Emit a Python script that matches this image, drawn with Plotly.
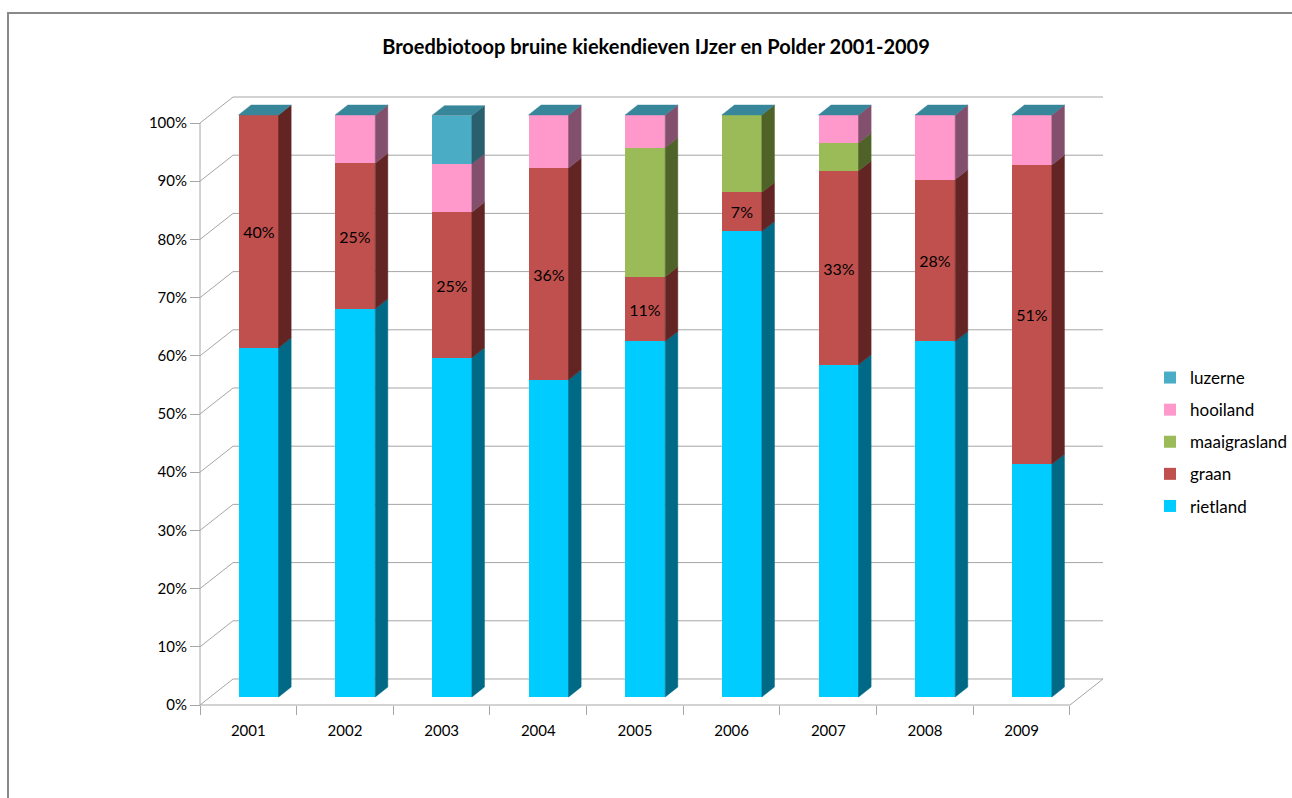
import plotly.graph_objects as go

# ---------------- data (percent of nests per habitat) ----------------
years = ["2001", "2002", "2003", "2004", "2005", "2006", "2007", "2008", "2009"]
rietland = [60.0, 66.7, 58.3, 54.5, 61.1, 80.0, 57.1, 61.1, 40.0]
graan = [40.0, 25.0, 25.0, 36.4, 11.1, 6.7, 33.3, 27.8, 51.4]
maaigrasland = [0.0, 0.0, 0.0, 0.0, 22.2, 13.3, 4.8, 0.0, 0.0]
hooiland = [0.0, 8.3, 8.3, 9.1, 5.6, 0.0, 4.8, 11.1, 8.6]
luzerne = [0.0, 0.0, 8.3, 0.0, 0.0, 0.0, 0.0, 0.0, 0.0]
y_ticks = [0, 10, 20, 30, 40, 50, 60, 70, 80, 90, 100]
y_ticktext = [f"{v}%" for v in y_ticks]
title = "Broedbiotoop bruine kiekendieven IJzer en Polder 2001-2009"

# name, values, front colour, side colour, labelled?
series = [
    ("rietland", rietland, "#00CCFF", "#006A86", False),
    ("graan", graan, "#C0504D", "#632523", True),
    ("maaigrasland", maaigrasland, "#9BBB59", "#4F6228", False),
    ("hooiland", hooiland, "#FF99CC", "#82506C", False),
    ("luzerne", luzerne, "#4BACC6", "#2A5F6E", False),
]
TOP_COLOR = "#37869A"
GRID = "#A6A6A6"
FONT = "Lato"

# ---------------- pseudo 3-D geometry ----------------
W, H = 1292, 798
N = len(years)
DX = 0.342      # full depth, in category units
DY = 4.47       # full depth, in % units
D_FRONT = 0.31  # depth fraction of bar front face
D_BACK = 0.69   # depth fraction of bar back face
BAR_W = 0.414

X0_PX, X1_PX = 200, 1103   # pixel of x=0 and x=N+DX
Y0_PX, Y1_PX = 705, 97     # pixel of y=0 and y=100+DY
PAD = 8
sx = (X1_PX - X0_PX) / (N + DX)
sy = (Y0_PX - Y1_PX) / (100 + DY)
ml = X0_PX - PAD
mr = W - (X1_PX + PAD)
mt = Y1_PX - PAD
mb = H - (Y0_PX + PAD)
plot_w = W - ml - mr
plot_h = H - mt - mb


def pxx(px):
    return (px - ml) / plot_w


def pxy(py):
    return (H - mb - py) / plot_h


fig = go.Figure()

cum = [0.0] * N
side_traces = []
xs = [i + 0.5 + D_FRONT * DX for i in range(N)]
dd = D_BACK - D_FRONT
nser = len(series)
for k, (name, vals, col, side, labelled) in enumerate(series):
    base = [c + D_FRONT * DY for c in cum]
    text = [f"{round(v)}%" if (labelled and v > 0) else "" for v in vals]
    fig.add_trace(go.Bar(
        x=xs, y=vals, base=base, width=BAR_W, name=name,
        marker=dict(color=col, line=dict(width=0)),
        text=text, textposition="inside", insidetextanchor="middle",
        textangle=0, constraintext="none",
        textfont=dict(family=FONT, size=16, color="#000000"),
        legendgroup=name, legendrank=nser - k, hoverinfo="skip",
    ))
    sxs, sys_ = [], []
    for i in range(N):
        if vals[i] <= 0:
            continue
        xr = xs[i] + BAR_W / 2
        yb = base[i]
        yt = base[i] + vals[i]
        sxs += [xr, xr + dd * DX, xr + dd * DX, xr, xr, None]
        sys_ += [yb, yb + dd * DY, yt + dd * DY, yt, yb, None]
    side_traces.append(go.Scatter(
        x=sxs, y=sys_, mode="lines", fill="toself", fillcolor=side,
        line=dict(color=side, width=0.5), showlegend=False, hoverinfo="skip",
    ))
    cum = [c + v for c, v in zip(cum, vals)]

for t in side_traces:
    fig.add_trace(t)

# top faces
tx, ty = [], []
for i in range(N):
    xl = xs[i] - BAR_W / 2
    xr = xs[i] + BAR_W / 2
    yt = cum[i] + D_FRONT * DY
    tx += [xl, xl + dd * DX, xr + dd * DX, xr, xl, None]
    ty += [yt, yt + dd * DY, yt + dd * DY, yt, yt, None]
fig.add_trace(go.Scatter(
    x=tx, y=ty, mode="lines", fill="toself", fillcolor=TOP_COLOR,
    line=dict(color=TOP_COLOR, width=0.5), showlegend=False, hoverinfo="skip",
))

# ---------------- walls & floor ----------------
shapes = []
for v in y_ticks:
    shapes.append(dict(type="line", xref="x", yref="y", x0=DX, y0=v + DY, x1=N + DX, y1=v + DY,
                       line=dict(color=GRID, width=1), layer="below"))
    shapes.append(dict(type="line", xref="x", yref="y", x0=0, y0=v, x1=DX, y1=v + DY,
                       line=dict(color=GRID, width=1), layer="below"))
shapes.append(dict(type="line", xref="x", yref="y", x0=0, y0=0, x1=N, y1=0,
                   line=dict(color=GRID, width=1), layer="below"))
shapes.append(dict(type="line", xref="x", yref="y", x0=N, y0=0, x1=N + DX, y1=DY,
                   line=dict(color=GRID, width=1), layer="below"))
shapes.append(dict(type="line", xref="x", yref="y", x0=0, y0=0, x1=0, y1=100,
                   line=dict(color=GRID, width=1), layer="below"))
# chart area border (extends beyond the picture)
shapes.append(dict(type="path", xref="paper", yref="paper",
                   path=f"M {pxx(8)} {pxy(820)} L {pxx(8)} {pxy(13)} L {pxx(1320)} {pxy(13)}",
                   line=dict(color="#898989", width=2)))

fig.update_layout(
    width=W, height=H, autosize=False,
    margin=dict(l=ml, r=mr, t=mt, b=mb, pad=0, autoexpand=False),
    paper_bgcolor="white", plot_bgcolor="white",
    barmode="overlay", bargap=0,
    font=dict(family=FONT, size=15, color="#000000"),
    title=dict(text=f"<b>{title}</b>", x=656 / W, xanchor="center",
               y=1 - 47 / H, yanchor="middle", yref="container",
               font=dict(family=FONT, size=20, color="#000000")),
    shapes=shapes,
    showlegend=True,
    legend=dict(traceorder="grouped", tracegroupgap=7,
                xref="container", yref="container",
                x=1150 / W, xanchor="left", y=1 - 360 / H, yanchor="top",
                font=dict(family=FONT, size=17, color="#000000"),
                bgcolor="rgba(0,0,0,0)"),
    xaxis=dict(range=[-PAD / sx, N + DX + PAD / sx], showgrid=False, zeroline=False,
               showline=False, tickmode="array", tickvals=[i + 0.5 for i in range(N)],
               ticktext=years, ticks="outside", ticklen=12, tickcolor="rgba(0,0,0,0)",
               minor=dict(tickmode="array", tickvals=list(range(N + 1)), ticks="outside",
                          ticklen=9, tickcolor=GRID, showgrid=False),
               anchor="free", position=PAD / plot_h, fixedrange=True, automargin=False,
               tickfont=dict(family=FONT, size=15)),
    yaxis=dict(range=[-PAD / sy, 100 + DY + PAD / sy], showgrid=False, zeroline=False,
               showline=False, tickmode="array", tickvals=y_ticks, ticktext=y_ticktext,
               ticks="outside", ticklen=10, tickcolor=GRID,
               anchor="free", position=PAD / plot_w, fixedrange=True, automargin=False,
               tickfont=dict(family=FONT, size=15)),
)

fig.write_html("out.html", config={"displayModeBar": False},
               post_script="document.body.style.margin='0';document.body.style.overflow='hidden';")
